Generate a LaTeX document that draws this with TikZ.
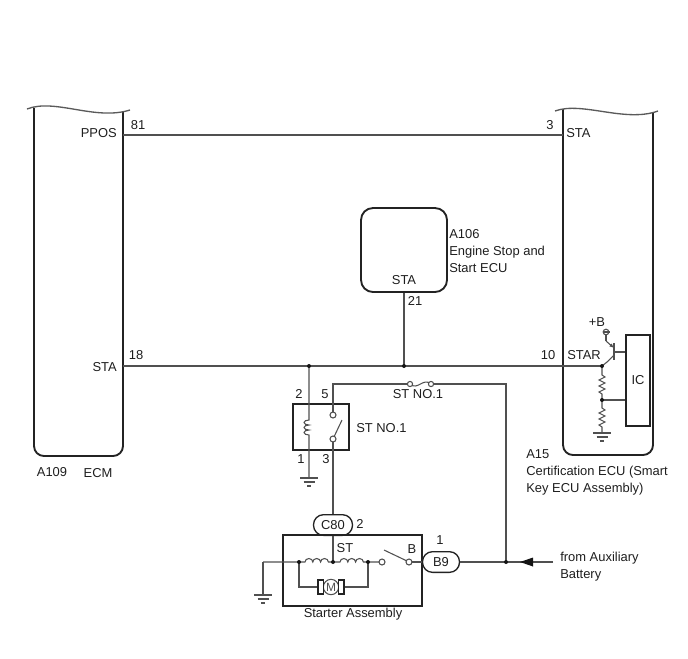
\documentclass[tikz,border=0pt]{standalone}
\usepackage{fontspec}
\setmainfont{Liberation Sans}
\usetikzlibrary{arrows.meta}

\begin{document}
\begin{tikzpicture}[x=0.75pt,y=0.75pt,yscale=-1,xscale=1,
  wire/.style={color={rgb, 255:red, 80; green, 80; blue, 80 }, line width=0.8pt},
  frame/.style={color={rgb, 255:red, 35; green, 35; blue, 35 }, line width=1.4pt},
  wave/.style={color={rgb, 255:red, 90; green, 90; blue, 90 }, line width=1pt},
  lbl/.style={inner sep=0pt, font=\fontsize{9.7}{12.7}\selectfont, text={rgb, 255:red, 30; green, 30; blue, 30 }},
  conn/.style={draw, frame, line width=1pt, rounded corners=7.5pt, minimum height=15.5pt, inner sep=0pt, lbl}
]
\useasboundingbox (0,0) rectangle (688,658);

%Shape: ECM [id:ecm]
\draw[frame, rounded corners=7.5pt] (34,108) -- (34,456) -- (123,456) -- (123,112);
\draw[wave] (27,109) .. controls (55,98) and (95,121) .. (130,110);
%Shape: Certification ECU [id:cer]
\draw[frame, rounded corners=7.5pt] (563,109) -- (563,455) -- (653,455) -- (653,113);
\draw[wave] (555,111) .. controls (582,101) and (625,123) .. (658,111);
%Shape: Engine Stop and Start ECU [id:a106]
\node[draw, frame, rounded corners=9pt, minimum width=64.5pt, minimum height=63pt] (a106) at (404,250) {};
%Shape: IC [id:ic]
\node[draw, frame, line width=1pt, minimum width=18pt, minimum height=68.25pt, lbl] (ic) at (638,380.5) {IC};
%Shape: relay [id:relay]
\node[draw, frame, line width=1.2pt, minimum width=42pt, minimum height=34.5pt] (relay) at (321,427) {};
%Shape: starter [id:starter]
\node[draw, frame, line width=1.2pt, minimum width=104.25pt, minimum height=53.25pt] (starter) at (352.5,570.5) {};
\node[conn, minimum width=29.25pt] (c80) at (333,525) {C80};
\node[conn, minimum width=27.75pt] (b9) at (441,562) {B9};

% pins and junctions
\coordinate (ecm81) at (123,135);
\coordinate (cer3) at (563,135);
\coordinate (ecm18) at (123,366);
\coordinate (jRel) at (309,366);
\coordinate (jEng) at (404,366);
\coordinate (jTr) at (602,366);
\coordinate (jIC) at (602,400);
\coordinate (bplus) at (606,332);
\coordinate (sw5) at (333,415);
\coordinate (sw3) at (333,439);
\coordinate (p5) at (333,384);
\coordinate (fa) at (410,384);
\coordinate (fb) at (431,384);
\coordinate (cBat) at (506,384);
\coordinate (jBat) at (506,562);
\coordinate (bat) at (553,562);
\coordinate (jSt) at (333,562);
\coordinate (jL) at (299,562);
\coordinate (jR) at (368,562);
\coordinate (gS) at (263,562);
\coordinate (swA) at (382,562);
\coordinate (swB) at (409,562);
\coordinate (gRel) at (309,478);
\coordinate (gSt) at (263,595);
\coordinate (gIC) at (602,433);

%Straight Lines [id:ppos]
\draw[wire] (ecm81) -- (cer3);
%Straight Lines [id:sta]
\draw[wire] (ecm18) -- (jTr);
\draw[wire] (a106.south) -- (jEng);

%Transistor
\draw[wire] (bplus) -- (606,341);
\draw[wire, -{Latex[length=3.5pt,width=3pt]}] (606,341) -- (614,348);
\draw[wire, line width=1.1pt] (614,343) -- (614,360);
\draw[wire] (614,355) -- (607,362) -- (jTr);
\draw[wire] (614,352) -- (614,352 -| ic.west);
\draw[wire, fill=white] (bplus) circle (2.8);
\draw[wire] (602.5,332) -- (609.5,332);

%Resistors
\draw[wire] (jTr) -- (602,375) -- ++(3,2) -- ++(-6,3) -- ++(6,3) -- ++(-6,3)
  -- ++(6,3) -- ++(-6,3) -- ++(3,2) -- (jIC);
\draw[wire] (jIC) -- (jIC -| ic.west);
\draw[wire] (jIC) -- (602,408) -- ++(3,2) -- ++(-6,3) -- ++(6,3) -- ++(-6,3)
  -- ++(6,3) -- ++(-6,3) -- ++(3,2) -- (gIC);
\draw[wire] (gIC) ++(-9,0) -- ++(18,0) ++(-14.5,4) -- ++(11,0) ++(-7.5,4) -- ++(4,0);

%Relay coil
\draw[wire] (jRel) -- (309,420)
  arc[start angle=270, end angle=90, x radius=5, y radius=2.5]
  arc[start angle=270, end angle=90, x radius=5, y radius=2.5]
  arc[start angle=270, end angle=90, x radius=5, y radius=2.5]
  -- (gRel);
\draw[wire] (gRel) ++(-9,0) -- ++(18,0) ++(-14.5,4) -- ++(11,0) ++(-7.5,4) -- ++(4,0);

%Relay switch and fuse
\draw[wire] (sw5) -- (p5) -- (fa);
\draw[wire] (fa) .. controls (418,391) and (423,377) .. (fb);
\draw[wire] (fb) -- (cBat) -- (jBat);
\draw[wire] (sw3) -- (c80.north);
\draw[wire] (sw3) ++(1.2,-2.6) -- (342,420);
\draw[wire, fill=white] (sw5) circle (3) (sw3) circle (3);
\draw[wire, fill=white] (fa) circle (2.6) (fb) circle (2.6);

%Starter
\draw[wire] (c80.south) -- (jSt);
\draw[wire] (gS) -- (jL) -- (305,562)
  arc[start angle=180, end angle=360, x radius=3.9, y radius=3.5]
  arc[start angle=180, end angle=360, x radius=3.9, y radius=3.5]
  arc[start angle=180, end angle=360, x radius=3.9, y radius=3.5]
  -- (jSt) -- (340,562)
  arc[start angle=180, end angle=360, x radius=3.9, y radius=3.5]
  arc[start angle=180, end angle=360, x radius=3.9, y radius=3.5]
  arc[start angle=180, end angle=360, x radius=3.9, y radius=3.5]
  -- (jR) -- (swA);
\draw[wire] (gS) -- (gSt);
\draw[wire] (gSt) ++(-9,0) -- ++(18,0) ++(-14.5,4) -- ++(11,0) ++(-7.5,4) -- ++(4,0);
\draw[wire] (swB) -- (b9.west);
\draw[wire] (swB) ++(-2.6,-1.3) -- (384,550);
\draw[wire, fill=white] (swA) circle (3) (swB) circle (3);

%Motor
\node[draw, circle, wire, minimum size=11.5pt, inner sep=0pt, font=\fontsize{9}{9}\selectfont] (motor) at (331,587) {M};
\draw[wire] (jL) -- (299,587) -- (318,587);
\draw[wire] (344,587) -- (368,587) -- (jR);
\draw[frame, line width=1pt, fill=white] (318,580) rectangle (323.5,594);
\draw[frame, line width=1pt, fill=white] (338.5,580) rectangle (344,594);

%Battery feed
\draw[wire] (b9.east) -- (jBat);
\draw[wire] (bat) -- (jBat);
\fill[color={rgb, 255:red, 20; green, 20; blue, 20 }] (520,562) -- (533,557.5) -- (533,566.5) -- cycle;

%Junction dots
\foreach \j in {jRel,jEng,jTr,jIC,jBat,jSt,jL,jR}
  \fill[color={rgb, 255:red, 20; green, 20; blue, 20 }] (\j) circle (2);

% Text Node
\node[lbl, anchor=east] (tPpos) at (117,133) {PPOS};
\node[lbl] (t81) at (138,125) {81};
\node[lbl] (t3) at (550,125) {3};
\node[lbl, anchor=west] (tStaC) at (566,133) {STA};
\node[lbl, anchor=east] (tStaE) at (117,367) {STA};
\node[lbl] (t18) at (136,355) {18};
\node[lbl] (t10) at (548,355) {10};
\node[lbl, anchor=west] (tStar) at (567,355) {STAR};
\node[lbl] (tA109) at (52,472) {A109};
\node[lbl] (tEcm) at (98,473) {ECM};
\node[lbl, anchor=west, align=left] (tA106) at (449,251) {A106\\Engine Stop and\\Start ECU};
\node[lbl] (tStaA) at (404,280) {STA};
\node[lbl] (t21) at (415,301) {21};
\node[lbl] (tB) at (597,322) {+B};
\node[lbl, anchor=west, align=left] (tA15) at (526,472) {A15\\Certification ECU (Smart\\Key ECU Assembly)};
\node[lbl] (t2) at (299,394) {2};
\node[lbl] (t5) at (325,394) {5};
\node[lbl] (t1) at (301,459) {1};
\node[lbl] (t3r) at (326,459) {3};
\node[lbl, anchor=west] (tRelay) at (356,428) {ST NO.1};
\node[lbl] (tFuse) at (418,394) {ST NO.1};
\node[lbl] (t2c) at (360,524) {2};
\node[lbl] (t1b) at (440,540) {1};
\node[lbl] (tSt) at (345,548) {ST};
\node[lbl] (tBsw) at (412,549) {B};
\node[lbl] (tStarter) at (353,614) {Starter Assembly};
\node[lbl, anchor=west, align=left] (tBat) at (560,567) {from Auxiliary\\Battery};
\end{tikzpicture}
\end{document}
